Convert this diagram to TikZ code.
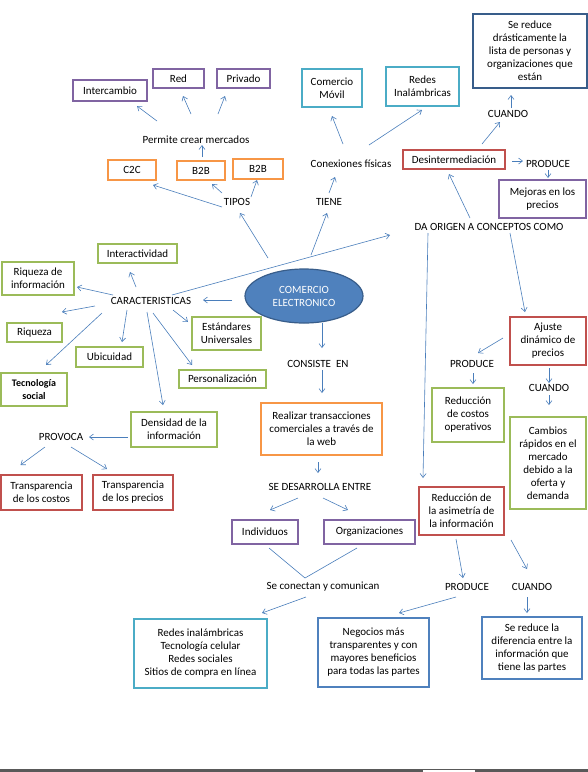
\documentclass[tikz,border=0pt]{standalone}
\usepackage{fontspec}
\setmainfont{Carlito}
\usepackage{tikz}
\usetikzlibrary{shapes.geometric}
\usetikzlibrary{arrows.meta}
\usetikzlibrary{calc}

\definecolor{boxpurple}{HTML}{8064A2}
\definecolor{boxorange}{HTML}{F79646}
\definecolor{boxteal}{HTML}{4BACC6}
\definecolor{boxgreen}{HTML}{9BBB59}
\definecolor{boxred}{HTML}{C0504D}
\definecolor{boxblue}{HTML}{4F81BD}
\definecolor{ellfill}{HTML}{4F81BD}
\definecolor{ellborder}{HTML}{385D8A}
\definecolor{arrowblue}{HTML}{4A7EBB}
\definecolor{barcolor}{HTML}{595959}

\tikzset{
  box/.style={draw, line width=1.6pt, align=center, inner sep=1pt},
  pbox/.style={box, draw=boxpurple},
  obox/.style={box, draw=boxorange},
  tbox/.style={box, draw=boxteal},
  gbox/.style={box, draw=boxgreen},
  rbox/.style={box, draw=boxred},
  bbox/.style={box, draw=boxblue},
  lbl/.style={inner sep=0pt},
  arr/.style={-{Straight Barb[length=4pt,width=6pt]}, line width=0.6pt, draw=arrowblue},
  ln/.style={line width=0.6pt, draw=arrowblue}
}

\begin{document}
\begin{tikzpicture}[x=1pt, y=-1pt, font=\fontsize{11}{13}\selectfont]
      \useasboundingbox (0,0) rectangle (588,772);

      % centre
      \node[ellipse, draw=ellborder, fill=ellfill, line width=1.2pt, minimum width=118, minimum height=54,
            text=white, align=center, inner sep=0pt] (ce) at (304,296) {COMERCIO\\ELECTRONICO};

      % tipos
      \node[pbox, minimum width=74, minimum height=21] (inter) at (110,90.5) {Intercambio};
      \node[pbox, minimum width=51, minimum height=19] (red) at (178.5,78.5) {Red};
      \node[pbox, minimum width=53, minimum height=19] (priv) at (243.5,78.5) {Privado};
      \node[lbl] (perm) at (196,140) {Permite crear mercados};
      \node[obox, minimum width=48, minimum height=20] (c2c) at (132,170) {C2C};
      \node[obox, minimum width=48, minimum height=19] (btb1) at (201,170.5) {B2B};
      \node[obox, minimum width=50, minimum height=20] (btb2) at (258,169) {B2B};
      \node[lbl] (tipos) at (237,202) {TIPOS};

      % tiene
      \node[tbox, minimum width=60, minimum height=38] (movil) at (332,88) {Comercio\\Móvil};
      \node[tbox, minimum width=73, minimum height=39] (inal) at (422.5,86.5) {Redes\\Inalámbricas};
      \node[lbl] (conex) at (351,164) {Conexiones físicas};
      \node[lbl] (tiene) at (329,202) {TIENE};

      % da origen
      \node[bbox, draw=ellborder, minimum width=114, minimum height=74] (lista) at (530,51)
            {Se reduce\\drásticamente la\\lista de personas y\\organizaciones que\\están};
      \node[lbl] (cuando1) at (508,114) {CUANDO};
      \node[rbox, minimum width=102, minimum height=19] (desint) at (454,159.5) {Desintermediación};
      \node[lbl] (produce1) at (548,164) {PRODUCE};
      \node[pbox, minimum width=87, minimum height=38] (mejoras) at (542.5,199) {Mejoras en los\\precios};
      \node[lbl] (daorigen) at (489,227) {DA ORIGEN A CONCEPTOS COMO};

      \node[rbox, minimum width=76, minimum height=48] (ajuste) at (548,341) {Ajuste\\dinámico de\\precios};
      \node[lbl] (produce2) at (472,364) {PRODUCE};
      \node[gbox, minimum width=72, minimum height=54] (rcost) at (468,415) {Reducción\\de costos\\operativos};
      \node[lbl] (cuando2) at (549,388) {CUANDO};
      \node[gbox, minimum width=76, minimum height=92] (cambios) at (548,463)
            {Cambios\\rápidos en el\\mercado\\debido a la\\oferta y\\demanda};

      \node[rbox, minimum width=85, minimum height=48] (asim) at (461.5,511) {Reducción de\\la asimetría de\\la información};
      \node[lbl] (produce3) at (467,587) {PRODUCE};
      \node[lbl] (cuando3) at (532,587) {CUANDO};
      \node[bbox, minimum width=111, minimum height=69] (negoc) at (373.5,652.5)
            {Negocios más\\transparentes y con\\mayores beneficios\\para todas las partes};
      \node[bbox, minimum width=100, minimum height=62] (dif) at (532,648)
            {Se reduce la\\diferencia entre la\\información que\\tiene las partes};

      % caracteristicas
      \node[lbl] (caract) at (151,301) {CARACTERISTICAS};
      \node[gbox, minimum width=79, minimum height=19] (interac) at (137.5,253.5) {Interactividad};
      \node[gbox, minimum width=72, minimum height=33] (rinfo) at (38,278.5) {Riqueza de\\información};
      \node[gbox, minimum width=55, minimum height=19] (riq) at (34.5,332.5) {Riqueza};
      \node[gbox, minimum width=67, minimum height=20] (ubic) at (109.5,357) {Ubicuidad};
      \node[gbox, minimum width=66, minimum height=33, font=\fontsize{10}{12.5}\selectfont\bfseries] (tecno) at (34,389.5) {Tecnología\\social};
      \node[gbox, minimum width=69, minimum height=33] (estand) at (226.5,333.5) {Estándares\\Universales};
      \node[gbox, minimum width=87, minimum height=18] (perso) at (222.5,379) {Personalización};
      \node[gbox, minimum width=86, minimum height=35] (dens) at (174,429.5) {Densidad de la\\información};
      \node[lbl] (provoca) at (61,437) {PROVOCA};
      \node[rbox, minimum width=81, minimum height=35] (tcost) at (41.5,492.5) {Transparencia\\de los costos};
      \node[rbox, minimum width=80, minimum height=35] (tprec) at (133,492.5) {Transparencia\\de los precios};

      % consiste en
      \node[lbl] (consiste) at (318,364) {CONSISTE\ \ EN};
      \node[obox, minimum width=121, minimum height=52] (realiz) at (321.5,429)
            {Realizar transacciones\\comerciales a través de\\la web};
      \node[lbl] (sedes) at (320,487) {SE DESARROLLA ENTRE};
      \node[pbox, minimum width=66, minimum height=24] (indiv) at (265,532) {Individuos};
      \node[pbox, minimum width=91, minimum height=24] (organ) at (369.5,532) {Organizaciones};
      \node[lbl] (secon) at (323,587) {Se conectan y comunican};
      \node[tbox, minimum width=133, minimum height=69] (redes) at (200.5,653.5)
            {Redes inalámbricas\\Tecnología celular\\Redes sociales\\Sitios de compra en línea};
      \coordinate (meet) at ($(secon)+(-18,-9)$);

      % arrows, top left
      \draw[arr] ($(perm)+(-39,-19)$) -- ($(inter)+(27,15.5)$);
      \draw[arr] ($(perm)+(-5,-26)$) -- ($(red)+(4.5,17.5)$);
      \draw[arr] ($(perm)+(22,-26)$) -- ($(priv)+(-18.5,17.5)$);
      \draw[arr] ($(btb1)+(1,-13.5)$) -- ($(perm)+(6,5)$);
      \draw[arr] ($(tipos)+(-15,5)$) -- ($(c2c)+(21,15)$);
      \draw[arr] ($(tipos)+(-15,-9)$) -- ($(btb1)+(11,13.5)$);
      \draw[arr] ($(tipos)+(14,-5)$) -- ($(btb2)+(-1,11)$);
      \draw[arr] ($(ce)+(-36,-38)$) -- ($(tipos)+(3,11)$);

      % arrows, top right
      \draw[arr] ($(ce)+(7,-41)$) -- ($(tiene)+(-2,11)$);
      \draw[arr] ($(tiene)+(0,-9)$) -- ($(conex)+(-16,13)$);
      \draw[arr] ($(conex)+(-8,-20)$) -- ($(movil)+(0,28)$);
      \draw[arr] ($(conex)+(18,-19)$) -- ($(inal)+(-0.5,23.5)$);
      \draw[arr] ($(caract)+(21,-6)$) -- ($(daorigen)+(-99,8)$);
      \draw[arr] ($(daorigen)+(-19,-9)$) -- ($(desint)+(-5,14.5)$);
      \draw[arr] ($(desint)+(58,1.5)$) -- ($(produce1)+(-25,-3)$);
      \draw[arr] ($(produce1)+(0,6)$) -- ($(mejoras)+(5.5,-21)$);
      \draw[arr] ($(desint)+(28,-15.5)$) -- ($(cuando1)+(-8,8)$);
      \draw[arr] ($(cuando1)+(3,-6)$) -- ($(lista)+(-19,44)$);
      \draw[arr] ($(daorigen)+(-61,6)$) -- ($(asim)+(-38.5,-33)$);
      \draw[arr] ($(daorigen)+(21,6)$) -- ($(ajuste)+(-23,-29)$);

      % arrows, caracteristicas
      \draw[arr] ($(ce)+(-72,4)$) -- ($(caract)+(52,-1)$);
      \draw[arr] ($(caract)+(-15,-14)$) -- ($(interac)+(-7.5,18.5)$);
      \draw[arr] ($(caract)+(-38,-6)$) -- ($(rinfo)+(39,8.5)$);
      \draw[arr] ($(caract)+(-56,5)$) -- ($(riq)+(27.5,-20.5)$);
      \draw[arr] ($(caract)+(-49,12)$) -- ($(tecno)+(12,-24.5)$);
      \draw[arr] ($(caract)+(-24,9)$) -- ($(ubic)+(12.5,-15)$);
      \draw[arr] ($(caract)+(-4,11)$) -- ($(dens)+(-11,-24.5)$);
      \draw[arr] ($(caract)+(2,12)$) -- ($(perso)+(-30.5,-14)$);
      \draw[arr] ($(caract)+(22,9)$) -- ($(estand)+(-38.5,-11.5)$);
      \draw[arr] ($(dens)+(-46,7.5)$) -- ($(provoca)+(28,0)$);
      \draw[arr] ($(provoca)+(-16,10)$) -- ($(tcost)+(-21,-27.5)$);
      \draw[arr] ($(provoca)+(10,10)$) -- ($(tprec)+(-26,-23.5)$);

      % arrows, consiste en
      \draw[arr] ($(ce)+(18,27)$) -- ($(consiste)+(4,-16)$);
      \draw[arr] ($(consiste)+(4,6)$) -- ($(realiz)+(0.5,-36)$);
      \draw[arr] ($(realiz)+(-3.5,33)$) -- ($(sedes)+(-2,-14)$);
      \draw[arr] ($(sedes)+(-22,11)$) -- ($(indiv)+(5,-22)$);
      \draw[arr] ($(sedes)+(3,11)$) -- ($(organ)+(-21.5,-22)$);
      \draw[ln] ($(indiv)+(4,16)$) -- (meet) -- ($(organ)+(-12.5,16)$);
      \draw[arr] ($(secon)+(-17,10)$) -- ($(redes)+(61.5,-40.5)$);

      % arrows, right column
      \draw[arr] ($(ajuste)+(-45,-3)$) -- ($(produce2)+(6,-11)$);
      \draw[arr] ($(produce2)+(1,9)$) -- ($(rcost)+(5,-31)$);
      \draw[arr] ($(ajuste)+(1,27)$) -- ($(cuando2)+(0,-5)$);
      \draw[arr] ($(cuando2)+(0,7)$) -- ($(cambios)+(1,-58)$);
      \draw[arr] ($(asim)+(-5.5,28)$) -- ($(produce3)+(-4,-9)$);
      \draw[arr] ($(asim)+(49.5,29)$) -- ($(cuando3)+(-5,-18)$);
      \draw[arr] ($(produce3)+(-11,10)$) -- ($(negoc)+(25.5,-39.5)$);
      \draw[arr] ($(cuando3)+(-5,10)$) -- ($(dif)+(-5,-35)$);

      % bar at the bottom
      \fill[barcolor] (0,769) rectangle (588,772);
      \fill[white] (423,770) rectangle (475,772);
    \end{tikzpicture}
\end{document}
